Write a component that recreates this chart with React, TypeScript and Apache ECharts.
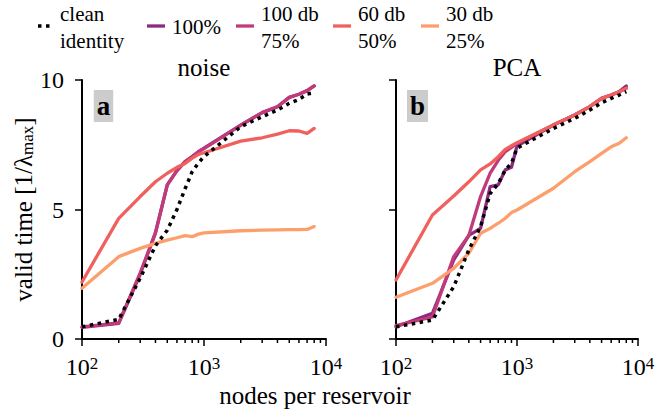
import React, { useEffect, useRef } from "react";
import * as echarts from "echarts";

const nodes = [100, 200, 300, 400, 500, 600, 700, 800, 900, 1000, 2000, 3000, 4000, 5000, 6000, 7000, 8000];
const minorTicks = [200, 300, 400, 500, 600, 700, 800, 900, 2000, 3000, 4000, 5000, 6000, 7000, 8000, 9000];

// panel a: noise
const cleanA = [0.47, 0.76, 2.35, 3.6, 4.2, 5.0, 5.8, 6.46, 6.8, 7.04, 8.2, 8.58, 8.84, 9.1, 9.25, 9.46, 9.51];
const p100A = [0.45, 0.6, 2.5, 4.1, 5.95, 6.5, 6.85, 7.04, 7.23, 7.37, 8.26, 8.74, 8.97, 9.33, 9.45, 9.59, 9.77];
const p75A = [0.47, 0.62, 2.55, 4.1, 5.95, 6.5, 6.85, 7.04, 7.23, 7.35, 8.26, 8.74, 8.97, 9.33, 9.45, 9.59, 9.77];
const p50A = [2.2, 4.66, 5.5, 6.07, 6.4, 6.63, 6.78, 6.98, 7.13, 7.19, 7.64, 7.77, 7.91, 8.04, 8.03, 7.94, 8.13];
const p25A = [1.96, 3.18, 3.5, 3.69, 3.82, 3.91, 3.99, 3.95, 4.05, 4.1, 4.18, 4.2, 4.21, 4.22, 4.22, 4.23, 4.34];

// panel b: PCA
const cleanB = [0.47, 0.73, 2.02, 3.44, 4.34, 5.62, 6.0, 6.53, 6.78, 7.37, 8.13, 8.52, 8.84, 9.12, 9.29, 9.42, 9.55];
const p100B = [0.47, 0.99, 3.05, 4.0, 4.27, 5.88, 5.95, 6.53, 6.63, 7.45, 8.26, 8.65, 8.97, 9.29, 9.42, 9.55, 9.77];
const p75B = [0.52, 0.85, 3.18, 4.0, 5.5, 6.4, 6.9, 7.23, 7.4, 7.55, 8.26, 8.65, 8.97, 9.29, 9.42, 9.55, 9.68];
const p50B = [2.28, 4.79, 5.52, 6.07, 6.53, 6.76, 7.04, 7.32, 7.46, 7.58, 8.26, 8.65, 8.97, 9.29, 9.42, 9.55, 9.68];
const p25B = [1.61, 2.15, 2.73, 3.31, 4.08, 4.27, 4.47, 4.66, 4.88, 4.98, 5.82, 6.46, 6.85, 7.17, 7.42, 7.56, 7.77];

const panelTitles = ["noise", "PCA"];
const panelLetters = ["a", "b"];
const legendNames = ["clean\nidentity", "100%", "100 db\n75%", "60 db\n50%", "30 db\n25%"];
const colors = ["#000000", "#8c2981", "#c13b7a", "#f0605d", "#fd9f6c"];

const FONT = "Liberation Serif";
const FS = 25;
const LFS = 21;

export default function App() {
  const ref = useRef<HTMLDivElement>(null);
  useEffect(() => {
    if (!ref.current) return;
    const chart = echarts.init(ref.current, null, { renderer: "svg" });
    const grids = [
      { left: 82, top: 80, width: 244, height: 259 },
      { left: 396, top: 80, width: 242, height: 259 },
    ];
    const xAxes = grids.map((_, i) => ({
      type: "log",
      logBase: 10,
      gridIndex: i,
      min: 100,
      max: 10000,
      axisLine: { show: true, lineStyle: { color: "#000", width: 2 } },
      axisTick: { show: true, length: 7, lineStyle: { color: "#000", width: 1.5 } },
      splitLine: { show: false },
      axisLabel: {
        margin: 16,
        color: "#000",
        fontFamily: FONT,
        fontSize: 24,
        formatter: (v: number) => `10{sup|${Math.round(Math.log10(v))}}`,
        rich: {
          sup: { fontSize: 17, fontFamily: FONT, color: "#000", verticalAlign: "top", lineHeight: 10 },
        },
      },
    }));
    const yAxes = grids.map((_, i) => ({
      type: "value",
      gridIndex: i,
      min: 0,
      max: 10,
      interval: 5,
      axisLine: { show: true, lineStyle: { color: "#000", width: 2 } },
      axisTick: { show: true, length: 7, lineStyle: { color: "#000", width: 1.5 } },
      splitLine: { show: false },
      axisLabel: {
        show: i === 0,
        margin: 18,
        color: "#000",
        fontFamily: FONT,
        fontSize: 24,
      },
      name: i === 0 ? "valid time [1/λ{sub|max}]" : "",
      nameLocation: "middle",
      nameRotate: 90,
      nameGap: 46,
      nameTextStyle: {
        color: "#000",
        fontFamily: FONT,
        fontSize: FS,
        rich: {
          sub: { fontSize: 17, fontFamily: FONT, color: "#000", verticalAlign: "bottom", lineHeight: 10 },
        },
      },
    }));

    const panels = [
      [cleanA, p100A, p75A, p50A, p25A],
      [cleanB, p100B, p75B, p50B, p25B],
    ];
    const series: any[] = [];
    panels.forEach((sets, pi) => {
      const order = [1, 2, 3, 4, 0];
      order.forEach((k) => {
        const vals = sets[k];
        series.push({
          type: "line",
          xAxisIndex: pi,
          yAxisIndex: pi,
          data: nodes.map((n, j) => [n, vals[j]]),
          showSymbol: false,
          symbol: "none",
          clip: false,
          z: k === 0 ? 5 : 2,
          lineStyle:
            k === 0
              ? { color: "#000", width: 3.5, type: [3.5, 4.5], cap: "butt" }
              : { color: colors[k], width: 3.3, cap: "round", join: "round" },
        });
      });
      series.push({
        type: "custom",
        xAxisIndex: pi,
        yAxisIndex: pi,
        clip: false,
        silent: true,
        data: minorTicks.map((m) => [m, 0]),
        encode: { x: 0, y: 1 },
        renderItem: (params: any, api: any) => {
          const p = api.coord([api.value(0), 0]);
          return {
            type: "line",
            shape: { x1: p[0], y1: p[1], x2: p[0], y2: p[1] + 4 },
            style: { stroke: "#000", lineWidth: 1.5 },
          };
        },
      });
    });

    const graphics: any[] = [];
    const centers = [204, 517];
    panelTitles.forEach((t, i) => {
      graphics.push({
        type: "text",
        x: centers[i],
        y: 67,
        style: { text: t, fontSize: FS, fontFamily: FONT, fill: "#000", textAlign: "center", textVerticalAlign: "middle" },
      });
    });
    const letterX = [103.5, 417.5];
    panelLetters.forEach((t, i) => {
      graphics.push({
        type: "text",
        x: letterX[i],
        y: 106,
        style: {
          text: t,
          fontSize: 27,
          fontWeight: "bold",
          fontFamily: FONT,
          fill: "#000",
          textAlign: "center",
          textVerticalAlign: "middle",
          backgroundColor: "#cccccc",
          padding: [3, 3, 3, 3],
          lineHeight: 26,
        },
      });
    });
    graphics.push({
      type: "text",
      x: 315,
      y: 395,
      style: { text: "nodes per reservoir", fontSize: FS, fontFamily: FONT, fill: "#000", textAlign: "center", textVerticalAlign: "middle" },
    });
    // legend
    const swX = [38, 147, 236, 333, 421];
    legendNames.forEach((name, i) => {
      graphics.push({
        type: "line",
        shape: { x1: swX[i], y1: 26, x2: swX[i] + (i === 0 ? 12 : 18), y2: 26 },
        style: {
          stroke: colors[i],
          lineWidth: i === 0 ? 3.5 : 3.3,
          lineDash: i === 0 ? [3.5, 4.5] : null,
        },
      });
      graphics.push({
        type: "text",
        x: swX[i] + (i === 0 ? 22 : 25),
        y: 27,
        style: {
          text: name,
          fontSize: LFS,
          fontFamily: FONT,
          fill: "#000",
          textAlign: "left",
          textVerticalAlign: "middle",
          lineHeight: 27,
        },
      });
    });

    chart.setOption({
      animation: false,
      grid: grids,
      xAxis: xAxes,
      yAxis: yAxes,
      series,
      graphic: graphics,
    });
    return () => chart.dispose();
  }, []);
  return <div ref={ref} style={{ width: 658, height: 410, position: "absolute", left: 0, top: 0 }} />;
}
